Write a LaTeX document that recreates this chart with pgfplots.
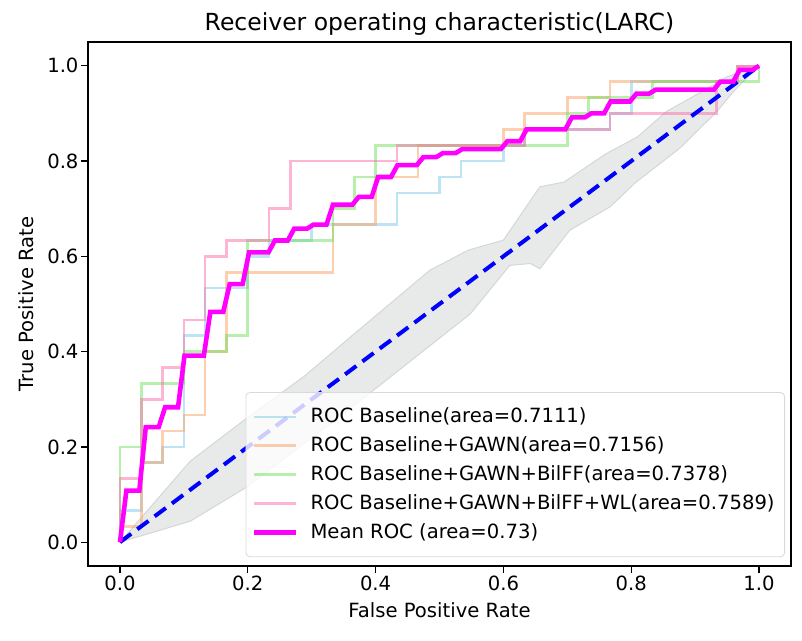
\documentclass[border=0pt]{standalone}
\usepackage{fontspec}
\setmainfont{DejaVu Sans}
\usepackage{pgfplots}
\pgfplotsset{compat=1.18}
\definecolor{cBase}{RGB}{135,206,235}
\definecolor{cGawn}{RGB}{250,160,100}
\definecolor{cBil}{RGB}{110,225,90}
\definecolor{cWL}{RGB}{250,110,170}
\definecolor{cMean}{RGB}{255,0,255}
\definecolor{cBand}{RGB}{232,234,234}
\definecolor{cBandEdge}{RGB}{212,215,215}
\begin{document}
\fontsize{9.8}{11.8}\selectfont
\begin{tikzpicture}
\begin{axis}[
  scale only axis, width=351.5pt, height=262pt,
  xmin=-1.5, xmax=31.5, ymin=-1.5, ymax=31.5,
  xtick={0,6,12,18,24,30}, xticklabels={0.0,0.2,0.4,0.6,0.8,1.0},
  ytick={0,6,12,18,24,30}, yticklabels={0.0,0.2,0.4,0.6,0.8,1.0},
  tick align=outside, tick pos=left, major tick length=3.3pt,
  tick style={black, line width=0.6pt},
  axis line style={line width=0.75pt},
  tick label style={font=\fontsize{9.8}{11.8}\selectfont},
  xticklabel style={yshift=2pt},
  yticklabel style={xshift=2pt},
  /pgf/number format/assume math mode=true,
  title={Receiver operating characteristic(LARC)},
  title style={font=\fontsize{11.75}{14}\selectfont, yshift=-6pt},
  xlabel={False Positive Rate}, ylabel={True Positive Rate},
  label style={font=\fontsize{9.8}{11.8}\selectfont},
  xlabel style={yshift=0.5pt},
  legend style={at={(0.9915,0.017)}, anchor=south east, draw=black!15, fill=white,
    fill opacity=0.8, text opacity=1, rounded corners=2pt,
    font=\fontsize{9.8}{11.8}\selectfont, row sep=1.5pt, inner xsep=3pt, inner ysep=5.75pt},
  legend cell align=left,
  legend image code/.code={\draw[#1] (0pt,0pt) -- (21pt,0pt); \path (25pt,0pt);},
]
% std band around chance line
\addplot[fill=cBand, draw=cBandEdge, line width=0.5pt, forget plot] coordinates {
 (0,0) (3.3,5.1) (6,7.86) (8.7,10.5) (10.8,12.9) (14.55,17.13) (16.35,18.39) (18,19.02)
 (19.71,22.38) (20.85,22.68) (22.8,24.45) (24.3,25.53) (25.65,27.12) (27.6,28.59) (28.5,29.31) (30,30)
 (28.8,28.38) (28.02,27.12) (26.28,24.81) (24.18,22.62) (23.01,21.12) (21.12,19.65) (19.71,17.22)
 (19.26,17.55) (18.3,17.43) (16.44,14.37) (11.28,8.91) (6,3.51) (3.3,1.32) (0,0)
} -- cycle;
% Baseline
\addplot[cBase, line width=1.3pt, opacity=0.55] coordinates {
 (0,0)(0,2)(1,2)(1,5)(2,5)(2,6)(3,6)(3,13)(4,13)(4,16)(6,16)(6,18)(7,18)(7,19)(9,19)(9,20)
 (13,20)(13,22)(15,22)(15,23)(16,23)(16,24)(18,24)(18,25)(19,25)(19,26)(23,26)(23,27)(24,27)
 (24,29)(29,29)(29,30)(30,30)};
\addlegendentry{ROC Baseline(area=0.7111)}
% +GAWN
\addplot[cGawn, line width=1.3pt, opacity=0.5] coordinates {
 (0,0)(0,1)(1,1)(1,5)(2,5)(2,7)(3,7)(3,8)(4,8)(4,12)(5,12)(5,17)(10,17)(10,20)(12,20)(12,23)
 (14,23)(14,25)(18,25)(18,26)(19,26)(19,27)(21,27)(21,28)(23,28)(23,29)(29,29)(29,30)(30,30)};
\addlegendentry{ROC Baseline+GAWN(area=0.7156)}
% +BilFF
\addplot[cBil, line width=1.3pt, opacity=0.5] coordinates {
 (0,0)(0,6)(1,6)(1,10)(3,10)(3,12)(5,12)(5,13)(6,13)(6,19)(10,19)(10,21)(11,21)(11,23)(12,23)
 (12,25)(21,25)(21,27)(22,27)(22,28)(25,28)(25,29)(30,29)(30,30)};
\addlegendentry{ROC Baseline+GAWN+BilFF(area=0.7378)}
% +WL
\addplot[cWL, line width=1.3pt, opacity=0.5] coordinates {
 (0,0)(0,4)(1,4)(1,9)(2,9)(2,11)(3,11)(3,14)(4,14)(4,18)(5,18)(5,19)(7,19)(7,21)(8,21)(8,24)
 (13,24)(13,25)(19,25)(19,26)(23,26)(23,27)(28,27)(28,29)(29,29)(29,30)(30,30)};
\addlegendentry{ROC Baseline+GAWN+BilFF+WL(area=0.7589)}
% chance line
\addplot[blue, line width=2pt, dash pattern=on 7pt off 3.8pt, forget plot] coordinates {(0,0)(30,30)};
% mean ROC
\addplot[cMean, line width=2.3pt] coordinates {
 (0,0)
 (0.303,3.25) (0.909,3.25)
 (1.212,7.25) (1.818,7.25)
 (2.121,8.5) (2.727,8.5)
 (3.030,11.75) (3.939,11.75)
 (4.242,14.5) (4.848,14.5)
 (5.152,16.25) (5.758,16.25)
 (6.061,18.25) (6.970,18.25)
 (7.273,19) (7.879,19)
 (8.182,19.75) (8.788,19.75)
 (9.091,20) (9.697,20)
 (10.000,21.25) (10.909,21.25)
 (11.212,21.75) (11.818,21.75)
 (12.121,23) (12.727,23)
 (13.030,23.75) (13.939,23.75)
 (14.242,24.25) (14.848,24.25)
 (15.152,24.5) (15.758,24.5)
 (16.061,24.75) (17.879,24.75)
 (18.182,25.25) (18.788,25.25)
 (19.091,26) (20.909,26)
 (21.212,26.75) (21.818,26.75)
 (22.121,27) (22.727,27)
 (23.030,27.75) (23.939,27.75)
 (24.242,28.25) (24.848,28.25)
 (25.152,28.5) (27.879,28.5)
 (28.182,29) (28.788,29)
 (29.091,29.75) (29.697,29.75)
 (30,30)};
\addlegendentry{Mean ROC (area=0.73)}
\end{axis}
\path[use as bounding box] ([xshift=-44pt,yshift=-37.5pt]current axis.south west) rectangle ([xshift=5.5pt,yshift=21pt]current axis.north east);
\end{tikzpicture}
\end{document}
